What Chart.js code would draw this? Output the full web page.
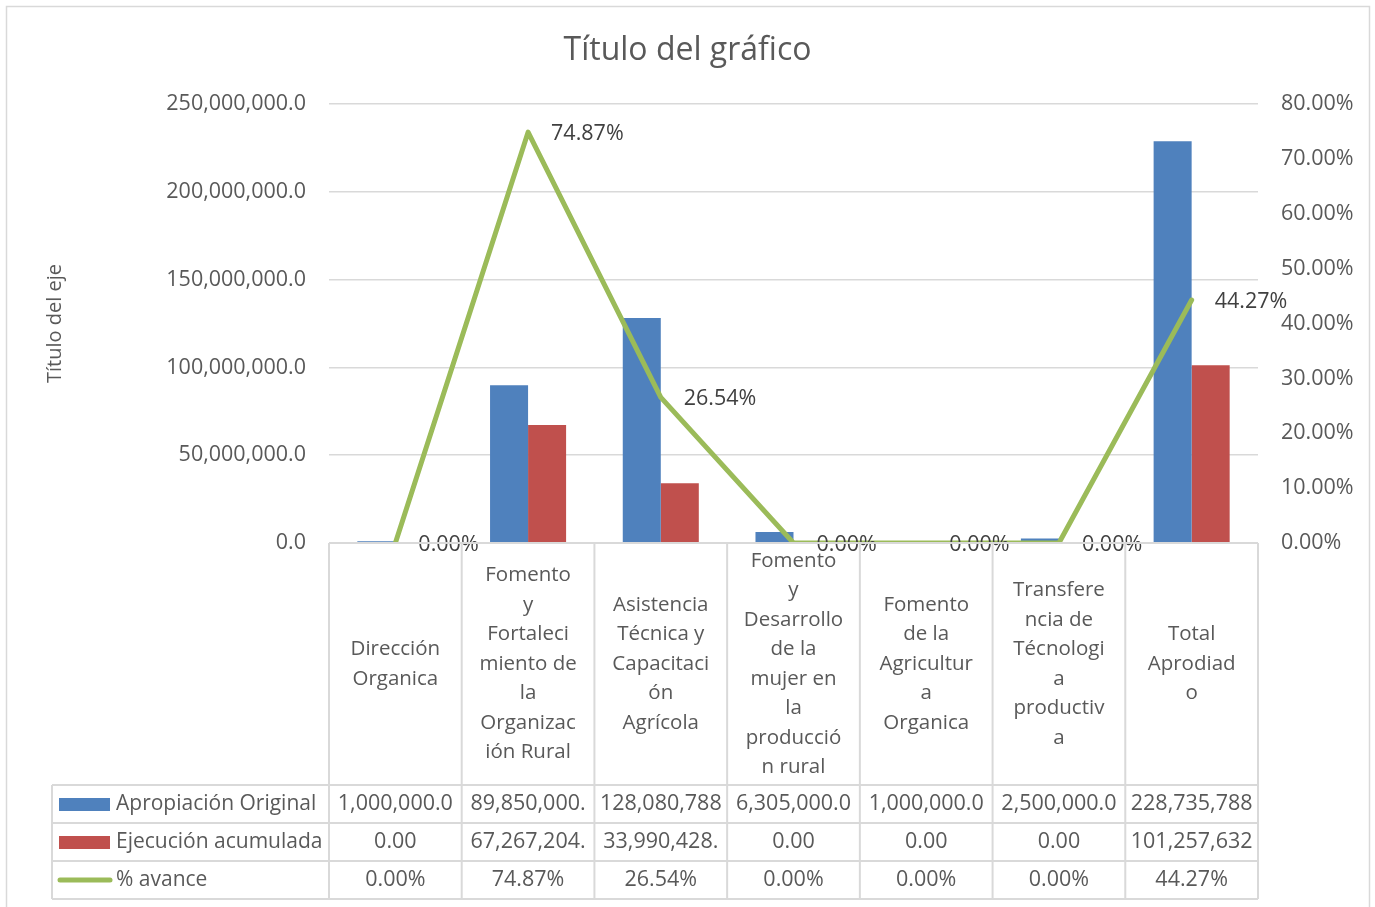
<!DOCTYPE html>
<html>
<head>
<meta charset="utf-8">
<script src="https://cdn.jsdelivr.net/npm/chart.js@4.4.0/dist/chart.umd.min.js"></script>
<style>
	html, body { margin: 0; padding: 0; background: #fff; }
	#wrap { width: 1375px; height: 907px; }
</style>
</head>
<body>
<div id="wrap"><canvas id="chart" width="1375" height="907"></canvas></div>
<script>
// category labels, wrapped the way the spreadsheet wraps them
const categories = [
	['Dirección', 'Organica'],
	['Fomento', 'y', 'Fortaleci', 'miento de', 'la', 'Organizac', 'ión Rural'],
	['Asistencia', 'Técnica y', 'Capacitaci', 'ón', 'Agrícola'],
	['Fomento', 'y', 'Desarrollo', 'de la', 'mujer en', 'la', 'producció', 'n rural'],
	['Fomento', 'de la', 'Agricultur', 'a', 'Organica'],
	['Transfere', 'ncia de', 'Técnologi', 'a', 'productiv', 'a'],
	['Total', 'Aprodiad', 'o']
];

const apropiacion = [1000000, 89850000, 128080788, 6305000, 1000000, 2500000, 228735788];
const ejecucion   = [0, 67267204, 33990428, 0, 0, 0, 101257632];
const avance      = [0, 0.7487, 0.2654, 0, 0, 0, 0.4427];

const seriesNames = ['Apropiación Original', 'Ejecución acumulada', '% avance'];

const clrBlue  = '#4F81BD';
const clrRed   = '#C0504D';
const clrGreen = '#9BBB59';
const clrText  = '#595959';
const clrGrid  = '#D9D9D9';
const fontFamily = '"Open Sans", "Noto Sans", sans-serif';

function fmt_money(v, decimals)
{
	return v.toLocaleString('en-US', { minimumFractionDigits: decimals, maximumFractionDigits: decimals });
}

function fmt_pct(v)
{
	return (v * 100).toFixed(2) + '%';
}

// clip text from the right until it fits, like the data table cells do
function fit_text(ctx, text, maxWidth)
{
	while(text.length > 1 && ctx.measureText(text).width > maxWidth) {
		text = text.slice(0, -1);
	}
	return text;
}

const backgroundPlugin = {
	id: 'background',
	beforeDraw(chart) {
		const ctx = chart.ctx;
		ctx.save();
		ctx.fillStyle = '#fff';
		ctx.fillRect(0, 0, chart.width, chart.height);
		ctx.strokeStyle = clrGrid;
		ctx.lineWidth = 1.5;
		ctx.strokeRect(6.5, 6.5, 1363, 905);
		ctx.restore();
	}
};

const lineLabelPlugin = {
	id: 'lineLabels',
	afterDatasetsDraw(chart) {
		const ctx = chart.ctx;
		const meta = chart.getDatasetMeta(2);
		ctx.save();
		ctx.font = '21.5px ' + fontFamily;
		ctx.fillStyle = '#404040';
		ctx.textAlign = 'left';
		ctx.textBaseline = 'middle';
		meta.data.forEach((pt, i) => {
			ctx.fillText(fmt_pct(avance[i]), pt.x + 23, pt.y + 2);
		});
		ctx.restore();
	}
};

const dataTablePlugin = {
	id: 'dataTable',
	afterDraw(chart) {
		const ctx = chart.ctx;
		const xs = chart.scales.x;
		const area = chart.chartArea;
		const n = categories.length;
		const half = (xs.getPixelForValue(1) - xs.getPixelForValue(0)) / 2;
		const edges = [];
		for(let i = 0; i < n; ++i) edges.push(xs.getPixelForValue(i) - half);
		edges.push(xs.getPixelForValue(n - 1) + half);

		const tableLeft = 52;
		const catTop = area.bottom;
		const catBottom = 785;
		const rowH = 38;
		const rows = [catBottom, catBottom + rowH, catBottom + rowH * 2, catBottom + rowH * 3];

		ctx.save();
		ctx.strokeStyle = clrGrid;
		ctx.lineWidth = 2;
		ctx.beginPath();
		ctx.moveTo(edges[0], catTop);
		ctx.lineTo(edges[n], catTop);
		rows.forEach(y => { ctx.moveTo(tableLeft, y); ctx.lineTo(edges[n], y); });
		edges.forEach(x => { ctx.moveTo(x, catTop); ctx.lineTo(x, rows[3]); });
		ctx.moveTo(tableLeft, rows[0]);
		ctx.lineTo(tableLeft, rows[3]);
		ctx.stroke();

		ctx.fillStyle = clrText;
		ctx.textAlign = 'center';
		ctx.textBaseline = 'middle';

		// category labels
		ctx.font = '20.5px ' + fontFamily;
		const lineH = 29.5;
		const catMid = (catTop + catBottom) / 2;
		categories.forEach((lines, i) => {
			const cx = xs.getPixelForValue(i);
			const y0 = catMid - (lines.length - 1) * lineH / 2;
			lines.forEach((ln, k) => ctx.fillText(ln, cx, y0 + k * lineH));
		});

		// value rows
		ctx.font = '21.5px ' + fontFamily;
		const rowTexts = [
			apropiacion.map(v => fmt_money(v, 1)),
			ejecucion.map(v => fmt_money(v, 2)),
			avance.map(v => fmt_pct(v))
		];
		rowTexts.forEach((texts, r) => {
			const cy = rows[r] + rowH / 2;
			texts.forEach((t, i) => {
				const w = edges[i + 1] - edges[i] - 10;
				ctx.fillText(fit_text(ctx, t, w), xs.getPixelForValue(i), cy);
			});
		});

		// legend keys in the first column
		ctx.textAlign = 'left';
		const keyX = 59;
		ctx.fillStyle = clrBlue;
		ctx.fillRect(keyX, rows[0] + rowH / 2 - 6, 51, 13);
		ctx.fillStyle = clrRed;
		ctx.fillRect(keyX, rows[1] + rowH / 2 - 6, 51, 13);
		ctx.strokeStyle = clrGreen;
		ctx.lineWidth = 5;
		ctx.lineCap = 'round';
		ctx.beginPath();
		ctx.moveTo(keyX + 1, rows[2] + rowH / 2);
		ctx.lineTo(keyX + 51, rows[2] + rowH / 2);
		ctx.stroke();

		ctx.font = '21px ' + fontFamily;
		ctx.fillStyle = clrText;
		seriesNames.forEach((name, r) => {
			ctx.fillText(name, 116, rows[r] + rowH / 2);
		});
		ctx.restore();
	}
};

const chart = new Chart('chart', {
	type: 'bar',
	data: {
		labels: categories,
		datasets: [
			{
				label: seriesNames[0],
				data: apropiacion,
				backgroundColor: clrBlue,
				yAxisID: 'y',
				order: 1
			}, {
				label: seriesNames[1],
				data: ejecucion,
				backgroundColor: clrRed,
				yAxisID: 'y',
				order: 1
			}, {
				type: 'line',
				label: seriesNames[2],
				data: avance,
				borderColor: clrGreen,
				borderWidth: 5,
				borderJoinStyle: 'round',
				borderCapStyle: 'round',
				pointRadius: 0,
				fill: false,
				tension: 0,
				yAxisID: 'y1',
				order: 0
			}
		]
	},
	options: {
		responsive: false,
		animation: false,
		devicePixelRatio: 1,
		layout: { padding: 0 },
		datasets: {
			bar: {
				categoryPercentage: 0.573,
				barPercentage: 1.0
			}
		},
		scales: {
			x: {
				grid: { display: false },
				border: { display: false },
				ticks: { display: false },
				afterFit(scale) { scale.height = 364; }
			},
			y: {
				position: 'left',
				min: 0,
				max: 250000000,
				ticks: {
					stepSize: 50000000,
					padding: 23,
					color: clrText,
					font: { family: fontFamily, size: 21.5 },
					callback: v => fmt_money(v, 1)
				},
				grid: { color: clrGrid, lineWidth: 1.5, drawTicks: false },
				border: { display: false },
				title: {
					display: true,
					text: 'Título del eje',
					color: clrText,
					font: { family: fontFamily, size: 20 },
					padding: { top: 43, bottom: 0 }
				},
				afterFit(scale) { scale.width = 329; }
			},
			y1: {
				position: 'right',
				min: 0,
				max: 0.8,
				ticks: {
					stepSize: 0.1,
					padding: 23,
					color: clrText,
					font: { family: fontFamily, size: 21.5 },
					callback: v => fmt_pct(v)
				},
				grid: { display: false, drawTicks: false },
				border: { display: false },
				afterFit(scale) { scale.width = 117; }
			}
		},
		plugins: {
			legend: { display: false },
			tooltip: { enabled: false },
			title: {
				display: true,
				text: 'Título del gráfico',
				color: clrText,
				font: { family: fontFamily, size: 32, weight: 'normal' },
				padding: { top: 31.8, bottom: 33.8 }
			}
		}
	},
	plugins: [backgroundPlugin, lineLabelPlugin, dataTablePlugin]
});
</script>
</body>
</html>
